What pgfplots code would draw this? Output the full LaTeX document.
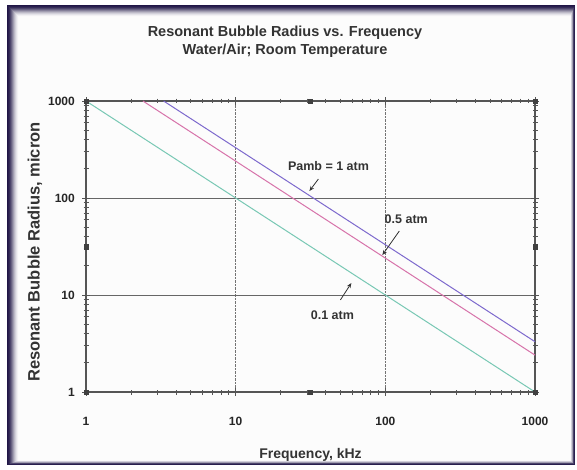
\documentclass[border=0pt]{standalone}
\usepackage{pgfplots}
\pgfplotsset{compat=1.18}
\usetikzlibrary{arrows.meta}
\usepackage{fontspec}
\setmainfont{Liberation Sans}
\definecolor{framec}{RGB}{32,22,70}
\definecolor{c1}{RGB}{125,105,205}
\definecolor{c2}{RGB}{215,115,170}
\definecolor{c3}{RGB}{120,200,180}
\definecolor{axc}{RGB}{85,85,85}
\begin{document}
\begin{tikzpicture}[x=1pt,y=1pt]
\fill[white] (0,0) rectangle (577,469);
\foreach \m [count=\i from 0] in {100,96,90,80,68,55,42,30,20,12,6,2} {
  \fill[framec!\m!white] (7+\i, 4+0.4*\i) rectangle (575-0.4*\i, 464-\i);
}
\fill[white!98!gray] (19,8.8) rectangle (570.2,452);
\node[font=\fontsize{14.5}{17}\selectfont\bfseries, text=black!80] at (285,436) {Resonant Bubble Radius vs. Frequency};
\node[font=\fontsize{14.5}{17}\selectfont\bfseries, text=black!80] at (285,418) {Water/Air; Room Temperature};
\begin{axis}[
  at={(86pt,77pt)}, anchor=south west,
  width=449pt, height=291pt, scale only axis,
  xmode=log, ymode=log,
  xmin=1, xmax=1000, ymin=1, ymax=1000,
  log ticks with fixed point,
  /pgf/number format/1000 sep={},
  /pgf/number format/assume math mode=true,
  axis line style={axc, line width=1.6pt},
  tick align=center,
  major tick length=8pt, minor tick length=5pt,
  tick style={axc, line width=0.8pt},
  xmajorgrids, ymajorgrids,
  x grid style={densely dotted, black!55, line width=0.7pt},
  y grid style={black!60, line width=0.9pt},
  xticklabel style={font=\fontsize{12}{14}\selectfont\bfseries, anchor=center, yshift=-25pt, text=black!85},
  yticklabel style={font=\fontsize{12}{14}\selectfont\bfseries, anchor=east, inner sep=0pt, xshift=-7pt, text=black!85},
  xlabel={Frequency, kHz},
  ylabel={Resonant Bubble Radius, micron},
  xlabel style={font=\fontsize{14}{16}\selectfont\bfseries, at={(axis description cs:0.5,-0.2165)}, anchor=center, text=black!80},
  ylabel style={font=\fontsize{16.5}{18}\selectfont\bfseries, at={(axis description cs:-0.1136,0.481)}, anchor=center, text=black!80},
  clip=false,
]
\addplot[c3, line width=1pt] coordinates {(1,1000) (10,100) (100,10) (1000,1)};
\addplot[c2, line width=1pt] coordinates {(2.4,1000) (10,240) (100,24) (1000,2.4)};
\addplot[c1, line width=1pt] coordinates {(3.3,1000) (10,330) (100,33) (1000,3.3)};
\addplot[only marks, mark=square*, mark size=2.2pt, mark options={fill=black!75, draw=black!75}]
  coordinates {(1,1000) (31.6,1000) (1000,1000) (1,31.6) (1000,31.6) (1,1) (31.6,1) (1000,1)};
\node[font=\fontsize{12.5}{14}\selectfont\bfseries, text=black!80] at (axis cs:41.7,214) {Pamb = 1 atm};
\draw[black!80, line width=0.8pt, -{Stealth[length=5pt,width=4pt]}] (axis cs:35.7,157) -- (axis cs:31.1,118);
\node[font=\fontsize{12.5}{14}\selectfont\bfseries, text=black!80] at (axis cs:138,60.8) {0.5 atm};
\draw[black!80, line width=0.8pt, -{Stealth[length=5pt,width=4pt]}] (axis cs:124,45.7) -- (axis cs:95.5,25.8);
\node[font=\fontsize{12.5}{14}\selectfont\bfseries, text=black!80] at (axis cs:44.3,6.2) {0.1 atm};
\draw[black!80, line width=0.8pt, -{Stealth[length=5pt,width=4pt]}] (axis cs:50.1,8.9) -- (axis cs:59.3,13.3);
\end{axis}
\end{tikzpicture}
\end{document}
